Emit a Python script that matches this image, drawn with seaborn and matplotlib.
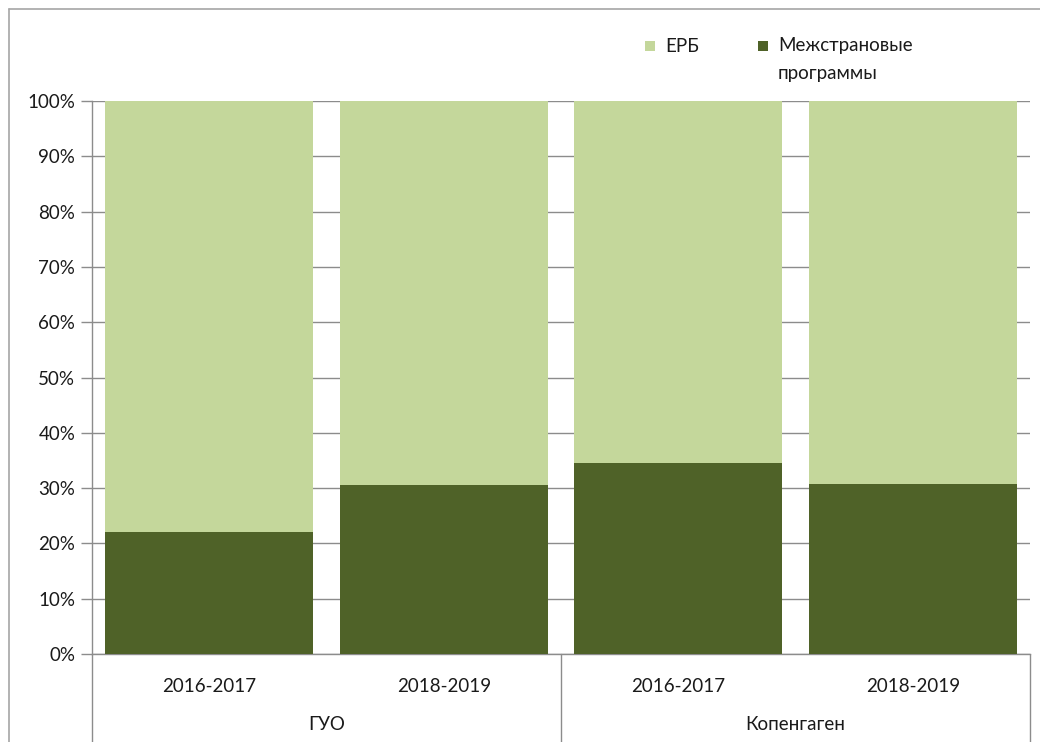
import matplotlib
matplotlib.use("Agg")
import matplotlib.pyplot as plt
import numpy as np
import pandas as pd
import seaborn as sns
from matplotlib.lines import Line2D
from matplotlib.patches import Rectangle

# Data: share of funding by source, per office and biennium (%)
groups = ["ГУО", "ГУО", "Копенгаген", "Копенгаген"]
periods = ["2016-2017", "2018-2019", "2016-2017", "2018-2019"]
intercountry = [22.0, 30.5, 34.6, 30.8]
erb = [100 - v for v in intercountry]
series_names = ["ЕРБ", "Межстрановые\nпрограммы"]
colors = ["#C4D79B", "#4F6228"]
y_ticks = list(range(0, 101, 10))

df = pd.DataFrame({
    "key": [f"{g}|{p}" for g, p in zip(groups, periods)],
    "period": periods,
    "group": groups,
    "inter": intercountry,
    "erb": erb,
})
df["total"] = df["inter"] + df["erb"]

sns.set_theme(style="white")
plt.rcParams["font.family"] = ["Lato", "DejaVu Sans"]

W, H = 1040, 742
fig = plt.figure(figsize=(W / 100, H / 100), dpi=100)
ax_left, ax_right, ax_top, ax_bottom = 92, 1030, 101, 654
ax = fig.add_axes([ax_left / W, 1 - ax_bottom / H,
                   (ax_right - ax_left) / W, (ax_bottom - ax_top) / H])

grey = "#8c8c8c"
text_color = "#1a1a1a"
fs = 13.5

# stacked bars: full height in light green, intercountry share on top in dark green
sns.barplot(data=df, x="key", y="total", color=colors[0], width=0.887,
            saturation=1, ax=ax, zorder=2, linewidth=0)
sns.barplot(data=df, x="key", y="inter", color=colors[1], width=0.887,
            saturation=1, ax=ax, zorder=3, linewidth=0)

ax.set_xlim(-0.5, len(df) - 0.5)
ax.set_ylim(0, 100)
ax.set_yticks(y_ticks)
ax.set_yticklabels([f"{v}%" for v in y_ticks], fontsize=fs, color=text_color)
ax.yaxis.grid(True, color=grey, linewidth=1)
ax.set_axisbelow(True)
ax.tick_params(axis="y", length=8, width=1, color=grey, direction="out", pad=4, left=True)
ax.set_xticks([])
ax.set_xlabel("")
ax.set_ylabel("")
for s in ["top", "right"]:
    ax.spines[s].set_visible(False)
for s in ["left", "bottom"]:
    ax.spines[s].set_color(grey)
    ax.spines[s].set_linewidth(1)

# two-level category axis
xt = ax.get_xaxis_transform()
span = ax_bottom - ax_top
for i, p in enumerate(periods):
    ax.text(i, -(686 - ax_bottom) / span, p, transform=xt, ha="center", va="center",
            fontsize=fs, color=text_color)
group_names = list(dict.fromkeys(groups))
for gname in group_names:
    idx = [i for i, g in enumerate(groups) if g == gname]
    ax.text(np.mean(idx), -(724 - ax_bottom) / span, gname, transform=xt,
            ha="center", va="center", fontsize=fs, color=text_color)
bounds = [-0.5] + [i + 0.5 for i in range(len(groups) - 1) if groups[i] != groups[i + 1]] + [len(groups) - 0.5]
for b in bounds:
    ax.plot([b, b], [0, -(742 - ax_bottom) / span], transform=xt, color=grey,
            linewidth=1, clip_on=False)

# legend: colour squares with labels, first text line level with the squares
leg_x = [645, 758]
leg_y = 46
sq = 10
for x0, c, name in zip(leg_x, colors, series_names):
    fig.add_artist(Rectangle((x0 / W, 1 - (leg_y + sq / 2) / H), sq / W, sq / H,
                             transform=fig.transFigure, facecolor=c, edgecolor="none"))
    lines = name.split("\n")
    for k, line in enumerate(lines):
        fig.text((x0 + sq + 10) / W, 1 - (leg_y + 28 * k) / H, line,
                 ha="left", va="center", fontsize=fs, color=text_color)

# outer chart frame
fig.add_artist(Line2D([9 / W, 9 / W], [0, 1 - 9 / H], color="#a6a6a6", linewidth=1.2))
fig.add_artist(Line2D([9 / W, 1], [1 - 9 / H, 1 - 9 / H], color="#a6a6a6", linewidth=1.2))

fig.savefig("out.png", dpi=100, facecolor="white")
